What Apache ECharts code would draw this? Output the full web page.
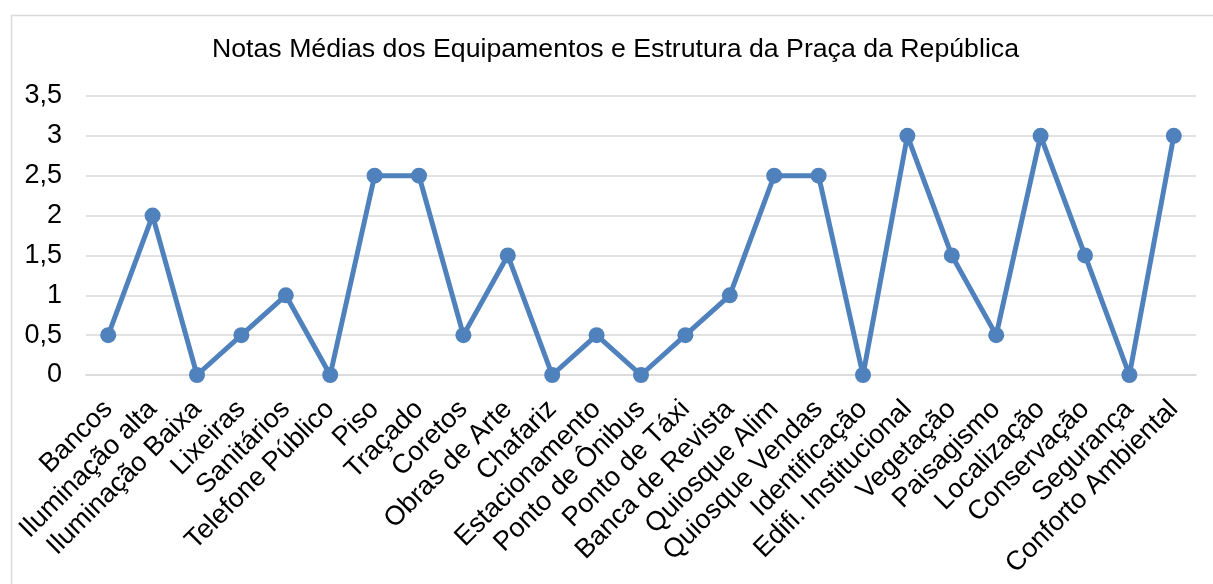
<!DOCTYPE html>
<html>
<head>
<meta charset="utf-8">
<script src="https://cdn.jsdelivr.net/npm/echarts@6/dist/echarts.min.js"></script>
<style>
html,body{margin:0;padding:0;background:#fff;}
#chart{width:1213px;height:584px;}
</style>
</head>
<body>
<div id="chart"></div>
<script>
const chartTitle = 'Notas Médias dos Equipamentos e Estrutura da Praça da República';
const categories = ['Bancos','Iluminação alta','Iluminação Baixa','Lixeiras','Sanitários','Telefone Público','Piso','Traçado','Coretos','Obras de Arte','Chafariz','Estacionamento','Ponto de Ônibus','Ponto de Táxi','Banca de Revista','Quiosque Alim','Quiosque Vendas','Identificação','Edifi. Institucional','Vegetação','Paisagismo','Localização','Conservação','Segurança','Conforto Ambiental'];
const notas = [0.5,2,0,0.5,1,0,2.5,2.5,0.5,1.5,0,0.5,0,0.5,1,2.5,2.5,0,3,1.5,0.5,3,1.5,0,3];
const yTicks = {min:0, max:3.5, step:0.5};

const FONT = "'Liberation Sans', Arial, sans-serif";
const chart = echarts.init(document.getElementById('chart'), null, {renderer:'canvas'});
chart.setOption({
  animation:false,
  backgroundColor:'#ffffff',
  graphic:[{
    type:'rect', left:9, top:13, z:-1,
    shape:{width:1230, height:600},
    style:{fill:'none', stroke:'#d9d9d9', lineWidth:1.5}
  }],
  title:{
    text:chartTitle, left:212, top:36, padding:0,
    textStyle:{fontFamily:FONT, fontSize:26.7, fontWeight:'normal', color:'#000'}
  },
  grid:{left:86, right:17, top:96, bottom:209, containLabel:false},
  xAxis:{
    type:'category', data:categories, boundaryGap:true,
    axisLine:{show:true, lineStyle:{color:'#d9d9d9', width:1.7}},
    axisTick:{show:false},
    axisLabel:{interval:0, rotate:45, margin:30, fontFamily:FONT, fontSize:27, color:'#000'}
  },
  yAxis:{
    type:'value', min:yTicks.min, max:yTicks.max, interval:yTicks.step,
    axisLine:{show:false}, axisTick:{show:false},
    splitLine:{lineStyle:{color:'#d9d9d9', width:1.7}},
    axisLabel:{margin:24, fontFamily:FONT, fontSize:27, color:'#000',
      formatter:v => String(v).replace('.', ',')}
  },
  series:[{
    type:'line', data:notas,
    lineStyle:{color:'#4f81bd', width:5},
    itemStyle:{color:'#4f81bd'},
    symbol:'circle', symbolSize:16, showSymbol:true
  }]
});
</script>
</body>
</html>
